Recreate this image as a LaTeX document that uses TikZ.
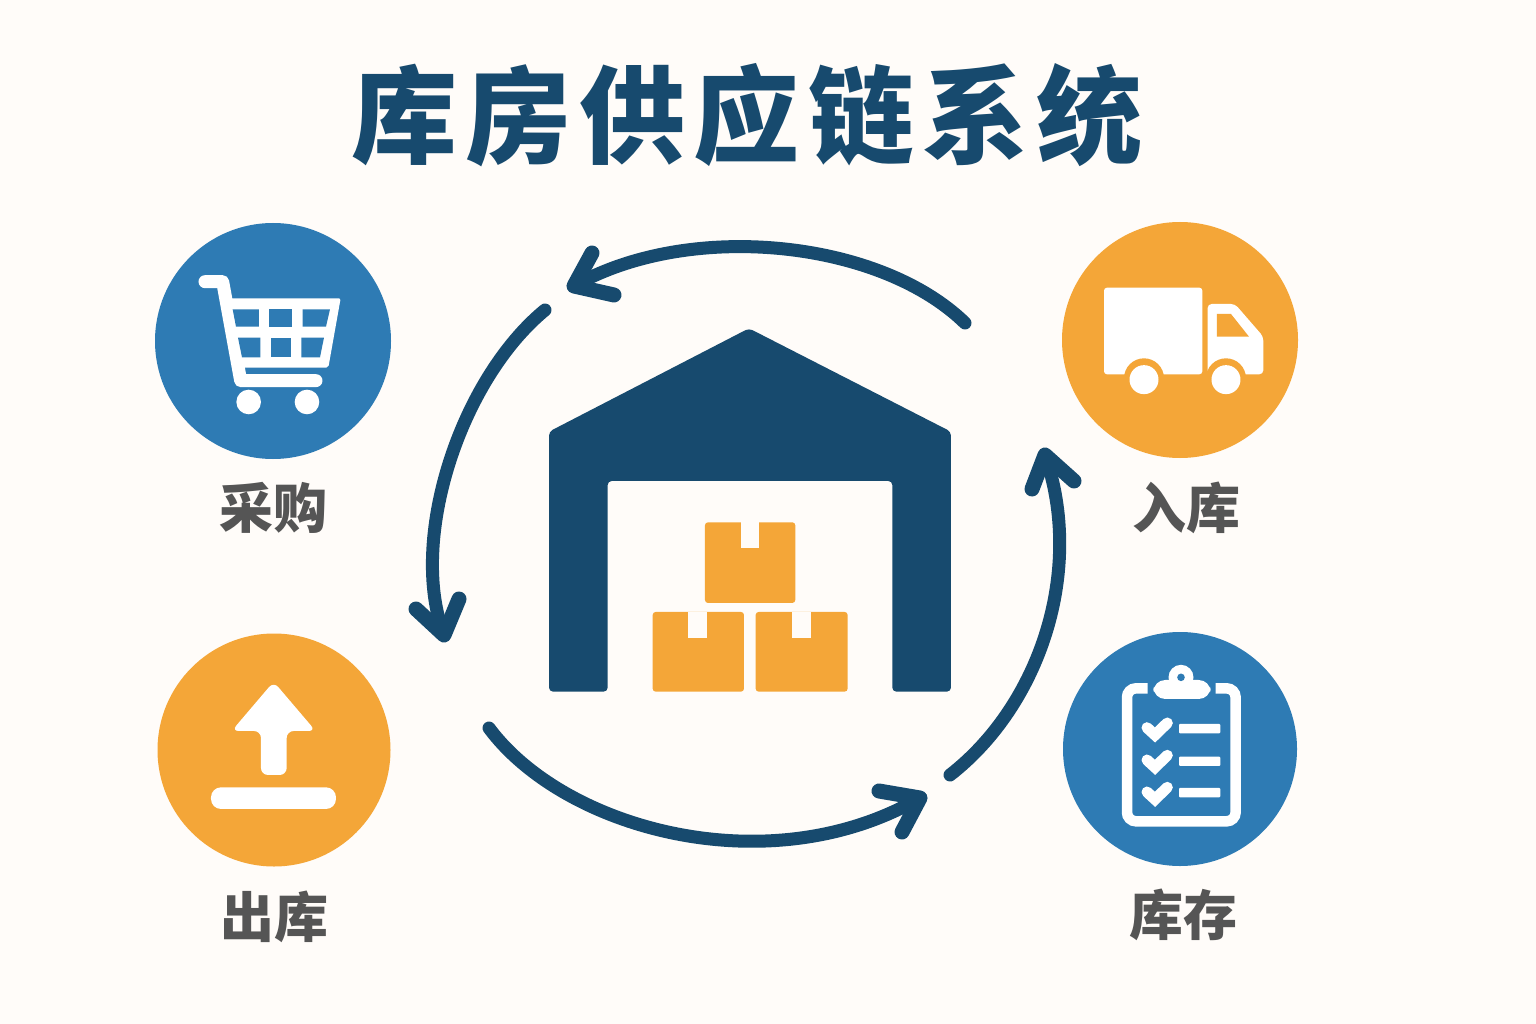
\documentclass[tikz,border=0pt]{standalone}
\usepackage{fontspec}
\setmainfont{Noto Sans CJK SC}
\newfontfamily\titlefont[LetterSpace=7.8]{Noto Sans CJK SC}
\definecolor{paper}{HTML}{FFFCF9}
\definecolor{navy}{HTML}{174A6E}
\definecolor{sky}{HTML}{2E7BB4}
\definecolor{amber}{HTML}{F4A638}
\definecolor{ink}{HTML}{555555}
\tikzset{
  disc/.style={circle,inner sep=0pt,minimum size=#1},
  caption/.style={text=ink,font=\fontsize{54}{54}\selectfont\bfseries},
  flow/.style={draw=navy,line width=13pt,line cap=round},
  barb/.style={draw=navy,line width=15pt,line cap=round,line join=round},
  zoomed/.style={x=0.3333pt,y=-0.3333pt},
}
\begin{document}
\begin{tikzpicture}[x=1pt,y=-1pt]
  \useasboundingbox[fill=paper] (0,0) rectangle (1536,1024);
  \node[text=navy,font=\titlefont\fontsize{106}{106}\selectfont\bfseries] (title) at (747,115) {库房供应链系统};
  \node[disc=236pt,fill=sky] (buy) at (273,341) {};
  \node[disc=236pt,fill=amber] (truck) at (1180,340) {};
  \node[disc=233pt,fill=amber] (out) at (274,750) {};
  \node[disc=234pt,fill=sky] (stock) at (1180,749) {};
  \node[caption] (buylabel) at (273,508) {采购};
  \node[caption] (trucklabel) at (1186,508) {入库};
  \node[caption] (outlabel) at (274,917) {出库};
  \node[caption] (stocklabel) at (1183,915) {库存};

  % ring of arrows
  \coordinate (ta) at (965,323);
  \coordinate (tb) at (574,286);
  \coordinate (la) at (545,310);
  \coordinate (lb) at (444,635);
  \coordinate (ba) at (489,728);
  \coordinate (bb) at (920,798);
  \coordinate (ra) at (950,775);
  \coordinate (rb) at (1045,455);
  \draw[flow] (ta) .. controls (880,240) and (690,220) .. (tb);
  \draw[flow] (la) .. controls (460,380) and (408,540) .. (lb);
  \draw[flow] (ba) .. controls (565,830) and (770,885) .. (bb);
  \draw[flow] (ra) .. controls (1040,705) and (1085,570) .. (rb);
  \draw[barb] (592,253)--(tb)--(614,295);
  \draw[barb] (416,609)--(lb)--(459,599);
  \draw[barb] (879,791)--(bb)--(902,832);
  \draw[barb] (1074,481)--(rb)--(1032,489);

  % warehouse
  \begin{scope}[shift={(540,320)},zoomed]
    \fill[navy,rounded corners=4pt] (27,1115)--(27,335)--(627,25)--(1233,335)--(1233,1115)
      --(1057,1115)--(1057,483)--(203,483)--(203,1115)--cycle;
    \foreach \xa/\ya/\xb/\yb/\na/\nb in {495/607/766/849/603/658,338/876/612/1115/445/502,647/876/923/1115/756/813}
    {
      \fill[amber,rounded corners=3pt] (\xa,\ya) rectangle (\xb,\yb);
      \fill[paper] (\na,\ya) rectangle (\nb,\ya+78);
    }
  \end{scope}

  % cart
  \begin{scope}[shift={(150,215)},zoomed]
    \fill[white,rounded corners=2pt] (228,250)--(572,250)--(535,458)--(270,458)--cycle;
    \draw[white,line width=13pt,line cap=round,line join=round] (165,200)--(218,200)--(272,497)--(498,497);
    \foreach \a/\b/\c/\d/\y/\z in {248/327/327/258/283/335,358/427/427/358/283/335,458/540/528/458/283/335,
      264/331/331/276/368/427,362/424/424/362/368/427,454/522/510/454/368/427}
    \fill[sky] (\a,\y)--(\b,\y)--(\c,\z)--(\d,\z)--cycle;
    \foreach \x in {296,471}
    \fill[white] (\x,561) circle [radius=12.3pt];
  \end{scope}

  % truck
  \begin{scope}[shift={(1055,215)},zoomed]
    \fill[white,rounded corners=3pt] (147,218) rectangle (442,478);
    \fill[white,rounded corners=4pt] (458,267)--(540,267)--(625,365)--(625,478)--(458,478)--cycle;
    \fill[amber] (486,297)--(528,297)--(582,365)--(486,365)--cycle;
    \foreach \x in {267,513}
    {
      \fill[amber] (\x,490) circle [radius=20pt];
      \fill[white] (\x,494) circle [radius=14.5pt];
    }
  \end{scope}

  % clipboard
  \begin{scope}[shift={(1055,625)},zoomed]
    \draw[white,line width=10.5pt,rounded corners=9pt] (278,190)--(216,190)--(216,589)--(542,589)--(542,190)--(482,190);
    \fill[white,rounded corners=12pt] (295,222)--(295,165)--(467,165)--(467,222)--cycle;
    \fill[white] (378,157) circle [radius=12.5pt];
    \fill[sky] (378,157) circle [radius=3.8pt];
    \foreach \y/\z in {312/297,409/395,505/489}
    {
      \draw[white,line width=11pt,line cap=round,line join=miter] (276,\y-4)--(300,\y+18)--(337,\y-18);
      \fill[white,rounded corners=1pt] (372,\z) rectangle (496,\z+28);
    }
  \end{scope}

  % upload
  \begin{scope}[shift={(150,625)},zoomed]
    \fill[white,rounded corners=7pt] (371,170)--(497,318)--(410,318)--(410,450)--(333,450)--(333,318)--(245,318)--cycle;
    \fill[white,rounded corners=10pt] (183,487) rectangle (558,552);
  \end{scope}
\end{tikzpicture}
\end{document}
